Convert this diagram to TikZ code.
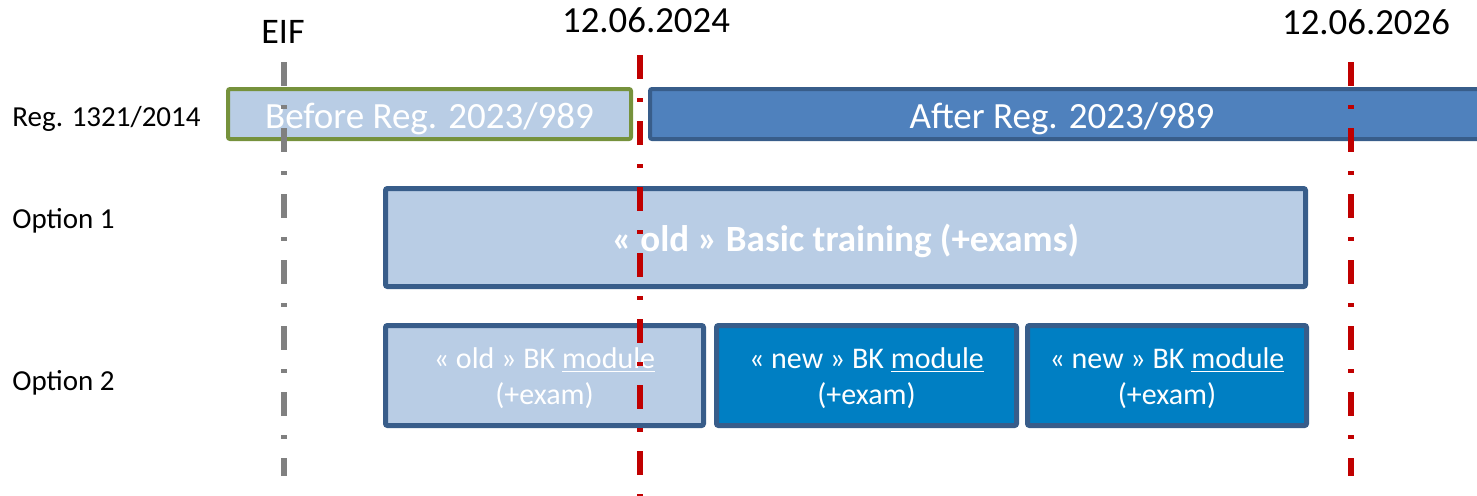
\documentclass[tikz,border=0pt]{standalone}
\usepackage{fontspec}
\setmainfont{Carlito}
\definecolor{lightfill}{RGB}{185,205,229}
\definecolor{greenborder}{RGB}{118,146,60}
\definecolor{afterfill}{RGB}{79,129,189}
\definecolor{boxborder}{RGB}{56,93,138}
\definecolor{newfill}{RGB}{0,127,195}
\definecolor{redline}{RGB}{192,0,0}
\definecolor{grayline}{RGB}{128,128,128}
\newcommand{\lowertext}[2]{\raisebox{-#1}[\height][\depth]{#2}}
\newcommand{\twolines}[2]{\lowertext{1.75pt}{\begin{tabular}{@{}c@{}}#1\\#2\end{tabular}}}
\tikzset{
  box/.style={draw=boxborder, line width=2.5pt, rounded corners=1pt, inner sep=0pt, text=white},
  regbox/.style={box, line width=2pt, minimum height=25pt, font=\fontsize{18.5}{20}\selectfont},
  modbox/.style={box, minimum height=50pt, font=\fontsize{15}{18}\selectfont},
  rowlabel/.style={anchor=base west, inner sep=0pt, font=\fontsize{14.5}{16}\selectfont},
  datelabel/.style={anchor=base, inner sep=0pt, font=\fontsize{18.4}{20}\selectfont},
  dashdot/.style={line width=2.9pt, dash pattern=on 12pt off 9.5pt on 2pt off 9.5pt},
}
\begin{document}
\begin{tikzpicture}[x=0.5pt,y=-0.5pt]
\useasboundingbox (0,0) rectangle (1477,495);
% row labels
\node[rowlabel] (lreg) at (12,126) {Reg. 1321/2014};
\node[rowlabel] (lopt1) at (12,228) {Option 1};
\node[rowlabel] (lopt2) at (12,390) {Option 2};
% top labels
\node[datelabel, font=\fontsize{18}{20}\selectfont] (eif) at (283,43) {EIF};
\node[datelabel] (d2024) at (646,32) {12.06.2024};
\node[datelabel] (d2026) at (1366,34) {12.06.2026};
% Regulation bars
\node[regbox, draw=greenborder, fill=lightfill, minimum width=201.5pt] (before) at (429.5,114)
  {\lowertext{2.5pt}{Before Reg. 2023/989}};
\node[regbox, fill=afterfill, minimum width=416pt] (after) at (1066,114)
  {\lowertext{2.5pt}{\hspace*{-4pt}After Reg. 2023/989}};
% Option 1
\node[box, fill=lightfill, minimum width=460pt, minimum height=49pt,
      font=\bfseries\fontsize{18.5}{20}\selectfont] (opt1) at (845.5,237.5)
  {\lowertext{1.5pt}{« old » Basic training (+exams)}};
% Option 2
\node[modbox, fill=lightfill, minimum width=159pt] (old) at (544.5,375.5)
  {\twolines{« old » BK \underline{module}}{(+exam)}};
\node[modbox, fill=newfill, minimum width=150pt] (new1) at (866.5,375.5)
  {\twolines{« new » BK \underline{module}}{(+exam)}};
\node[modbox, fill=newfill, minimum width=139.5pt] (new2) at (1167,375.5)
  {\twolines{« new » BK \underline{module}}{(+exam)}};
% vertical milestone lines
\coordinate (eiftop) at (284,62);
\coordinate (eifbot) at (284,476);
\coordinate (r1top) at (640,55);
\coordinate (r1bot) at (640,500);
\coordinate (r2top) at (1351,62);
\coordinate (r2bot) at (1351,476);
\draw[dashdot, draw=grayline] (eiftop) -- (eifbot);
\draw[dashdot, draw=redline] (r1top) -- (r1bot);
\draw[dashdot, draw=redline] (r2top) -- (r2bot);
\end{tikzpicture}
\end{document}
